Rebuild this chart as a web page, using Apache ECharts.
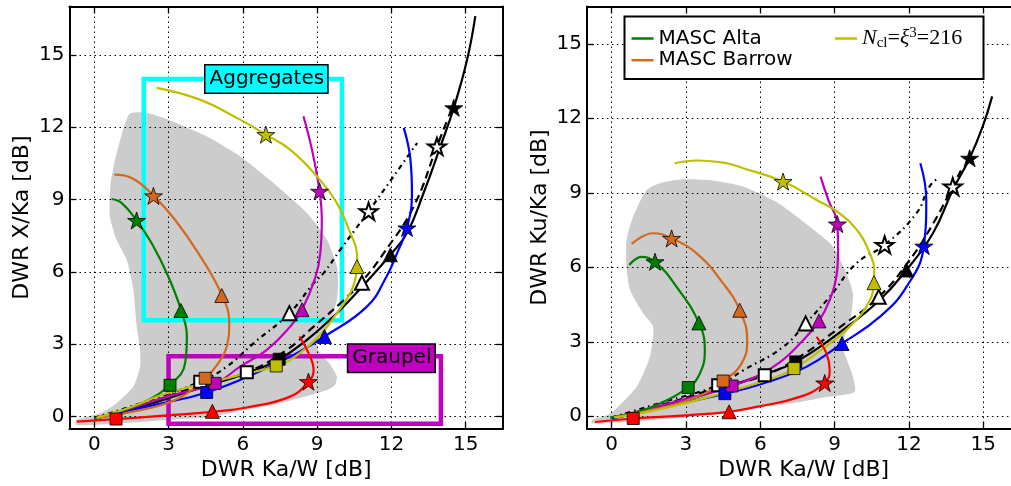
<!DOCTYPE html>
<html><head><meta charset="utf-8">
<script src="https://cdn.jsdelivr.net/npm/echarts@6/dist/echarts.min.js"></script>
<style>html,body{margin:0;padding:0;background:#fff}#c{width:1011px;height:486px}</style>
</head><body><div id="c"></div>
<script>
// ---------- tick values ----------
const xTicks = [0, 3, 6, 9, 12, 15];
const yTicks = [0, 3, 6, 9, 12, 15];

// ---------- LEFT panel: DWR X/Ka vs DWR Ka/W ----------
const leftGray = [[0.63,8.3],[0.66,9.68],[0.84,10.65],[1.17,11.9],[1.44,12.56],[2.1,12.6],[2.99,12.31],[4.54,11.62],[5.89,10.79],[7.24,9.68],[8.59,8.44],[9.4,7.33],[9.8,6.22],[9.85,5.5],[9.8,4.84],[9.6,4.15],[9.4,3.7],[9.06,3.18],[8.99,2.9],[9.13,2.63],[9.5,2.2],[9.8,1.66],[9.73,1.32],[9.4,1.1],[7.5,0.55],[6.0,0.25],[4.8,0.0],[2.93,-0.14],[1.0,-0.28],[-0.75,-0.35],[-0.7,-0.12],[0.23,0.14],[0.9,0.56],[1.58,1.25],[1.85,2.07],[1.85,2.77],[1.7,3.87],[1.58,5.26],[1.31,6.5],[0.9,7.33]];
const leftGreen = [[0.0,-0.08],[0.57,0.07],[1.92,0.56],[3.06,1.32],[3.67,2.22],[3.74,3.32],[3.5,4.43],[2.99,5.81],[2.32,7.19],[1.71,8.13],[1.11,8.85],[0.7,9.02]];
const leftOrange = [[0.1,-0.05],[1.24,0.14],[3.26,0.69],[4.48,1.59],[5.0,2.2],[5.35,2.9],[5.45,3.87],[5.15,5.05],[4.2,6.78],[3.26,8.16],[2.39,9.16],[1.51,9.89],[0.81,10.03]];
const leftYellow = [[0.1,-0.05],[1.5,0.4],[2.93,0.97],[5.62,1.66],[7.35,2.1],[8.05,2.45],[9.13,3.4],[9.8,4.29],[10.34,5.12],[10.55,5.74],[10.62,6.4],[10.61,6.78],[10.34,7.61],[9.8,8.85],[8.99,9.96],[7.91,11.07],[6.93,11.69],[5.89,12.31],[4.27,13.14],[2.52,13.63]];
const leftMagenta = [[0.1,-0.05],[1.5,0.35],[3.0,0.85],[4.88,1.38],[5.89,2.07],[6.97,2.77],[7.91,3.73],[8.39,4.43],[8.92,5.74],[9.13,6.78],[9.19,8.16],[9.1,9.34],[8.79,11.07],[8.45,12.45]];
const leftBlue = [[0.0,-0.08],[1.0,0.15],[2.5,0.5],[4.54,1.0],[6.83,1.94],[8.18,2.63],[9.3,3.32],[11.01,4.56],[11.8,5.8],[12.23,6.78],[12.63,7.82],[12.83,9.27],[12.77,10.65],[12.5,11.97]];
const leftRed = [[-0.71,-0.21],[0.88,-0.1],[2.93,0.05],[4.77,0.2],[6.16,0.38],[7.91,0.83],[8.65,1.45],[8.86,1.94],[8.72,2.49],[8.29,3.32]];
const leftBlack = [[0.0,-0.08],[1.0,0.15],[2.5,0.6],[4.3,1.2],[6.16,1.8],[7.47,2.38],[8.59,3.18],[9.8,4.29],[11.01,5.6],[11.96,6.71],[12.63,7.61],[13.3,9.27],[13.98,11.2],[14.52,12.8],[15.06,14.8],[15.39,16.6]];
const leftDashed = [[0.0,-0.08],[2.0,0.5],[4.28,1.3],[6.16,1.84],[7.78,2.77],[8.86,3.73],[9.94,4.7],[10.81,5.6],[11.69,6.78],[12.9,8.71],[13.84,11.2],[14.3,12.4]];
const leftDashDot = [[0.0,-0.05],[2.0,0.6],[4.28,1.45],[5.35,2.07],[6.43,3.04],[7.88,4.29],[8.86,5.53],[9.26,5.95],[9.94,6.92],[10.5,7.7],[11.08,8.51],[12.09,9.96],[13.04,11.34]];
// markers: [square, triangle, star]
const leftGreenMarks = [[3.06,1.3],[3.5,4.4],[1.71,8.13]];
const leftOrangeMarks = [[4.48,1.59],[5.15,5.02],[2.39,9.15]];
const leftYellowMarks = [[7.35,2.1],[10.61,6.22],[6.93,11.69]];
const leftMagentaMarks = [[4.88,1.38],[8.39,4.43],[9.1,9.34]];
const leftBlueMarks = [[4.54,1.0],[9.3,3.32],[12.63,7.82]];
const leftRedMarks = [[0.88,-0.1],[4.77,0.22],[8.65,1.45]];
const leftBlackMarks = [[7.47,2.38],[11.96,6.71],[14.52,12.8]];
const leftDashedMarks = [[6.16,1.84],[10.81,5.55],[13.84,11.2]];
const leftDashDotMarks = [[4.28,1.45],[7.88,4.29],[11.08,8.51]];
// boxes
const aggregatesBox = [[2,4],[2,14],[10,14],[10,4],[2,4]];
const graupelBox = [[3,-0.3],[3,2.5],[14,2.5],[14,-0.3],[3,-0.3]];
const aggregatesLabelPos = [[6.95,14]];
const graupelLabelPos = [[12,2.42]];

// ---------- RIGHT panel: DWR Ku/Ka vs DWR Ka/W ----------
const rightGray = [[0.6,7.1],[0.87,8.04],[1.41,9.11],[2.0,9.4],[2.89,9.54],[4.0,9.5],[5.3,9.25],[6.7,8.6],[8.0,7.63],[8.94,6.83],[9.48,5.75],[9.74,4.95],[9.7,4.3],[9.6,3.74],[9.3,2.85],[9.45,2.4],[9.74,1.6],[9.81,0.98],[8.5,0.75],[7.19,0.51],[5.0,0.2],[3.16,-0.03],[1.0,-0.2],[-0.8,-0.29],[-0.8,-0.15],[-0.07,0.1],[1.0,1.18],[1.54,2.39],[1.68,3.6],[1.27,4.14],[0.74,5.08],[0.6,6.0]];
const rightGreen = [[-0.07,-0.05],[1.01,0.17],[1.95,0.51],[3.09,1.16],[3.56,1.72],[3.76,2.66],[3.52,3.76],[2.62,5.21],[1.75,6.22],[1.21,6.42],[0.71,6.09]];
const rightOrange = [[0.1,-0.03],[1.28,0.17],[3.43,0.78],[4.5,1.42],[5.24,2.12],[5.47,3.06],[5.17,4.27],[4.5,5.35],[3.43,6.56],[2.42,7.16],[1.68,7.37],[0.81,6.94]];
const rightYellow = [[0.1,-0.05],[2.0,0.3],[4.0,0.8],[6.25,1.45],[7.36,1.92],[8.8,2.93],[9.6,3.6],[10.28,4.41],[10.59,5.38],[10.6,5.9],[10.42,6.56],[10.0,7.37],[9.2,8.17],[8.27,8.71],[6.92,9.45],[5.31,9.99],[4.64,10.19],[3.43,10.3],[2.55,10.19]];
const rightMagenta = [[0.1,-0.05],[1.5,0.3],[3.0,0.7],[4.86,1.22],[6.52,1.99],[7.73,3.06],[8.37,3.84],[8.8,4.68],[9.07,5.62],[9.14,6.69],[9.11,7.74],[8.75,8.7],[8.43,9.65]];
const rightBlue = [[0.0,-0.08],[1.0,0.12],[2.5,0.45],[4.57,0.91],[6.11,1.32],[7.86,1.99],[9.3,2.93],[10.82,4.0],[11.9,5.21],[12.6,6.85],[12.7,8.71],[12.46,10.19]];
const rightRed = [[-0.67,-0.23],[0.87,-0.09],[3.0,0.04],[4.74,0.18],[5.85,0.38],[7.59,0.78],[8.6,1.34],[8.8,1.85],[8.67,2.53],[8.27,3.2]];
const rightBlack = [[0.0,-0.08],[1.0,0.12],[2.5,0.5],[4.3,1.05],[5.85,1.59],[7.43,2.19],[9.33,3.47],[10.82,4.68],[11.9,5.89],[12.97,7.37],[13.77,9.11],[14.45,10.39],[14.98,11.67],[15.36,12.88]];
const rightDashed = [[0.0,-0.08],[2.0,0.45],[4.3,1.15],[6.18,1.65],[7.6,2.4],[9.1,3.5],[10.78,4.81],[12.03,6.29],[13.0,7.8],[13.77,9.25],[14.1,9.9]];
const rightDashDot = [[0.0,-0.05],[2.0,0.55],[4.3,1.25],[5.31,1.85],[6.92,2.79],[7.83,3.74],[8.8,4.81],[9.88,6.16],[11.02,6.9],[12.3,8.17],[12.83,9.25],[13.2,9.6]];
const rightGreenMarks = [[3.09,1.16],[3.52,3.76],[1.75,6.22]];
const rightOrangeMarks = [[4.5,1.42],[5.17,4.27],[2.42,7.16]];
const rightYellowMarks = [[7.36,1.92],[10.59,5.38],[6.92,9.45]];
const rightMagentaMarks = [[4.86,1.22],[8.37,3.84],[9.11,7.74]];
const rightBlueMarks = [[4.57,0.91],[9.3,2.93],[12.6,6.85]];
const rightRedMarks = [[0.87,-0.09],[4.74,0.18],[8.6,1.34]];
const rightBlackMarks = [[7.43,2.19],[11.9,5.89],[14.45,10.39]];
const rightDashedMarks = [[6.18,1.65],[10.78,4.81],[13.77,9.25]];
const rightDashDotMarks = [[4.3,1.25],[7.83,3.74],[11.02,6.9]];

// ---------- styling ----------
const FONT = 'DejaVu Sans';
const STAR = 'path://M0,-10 L2.245,-3.09 L9.511,-3.09 L3.633,1.18 L5.878,8.09 L0,3.82 L-5.878,8.09 L-3.633,1.18 L-9.511,-3.09 L-2.245,-3.09 Z';
const C = {green:'#008000', orange:'#d2691e', yellow:'#bfbf00', magenta:'#bf00bf', blue:'#0000ff', red:'#ff0000', black:'#000000', cyan:'#00ffff', gray:'#cccccc'};

const panels = [
  {gray:leftGray, lines:[
    {name:'L dashdot', d:leftDashDot, m:leftDashDotMarks, c:C.black, t:[5,4,1.5,4], hollow:true},
    {name:'L dashed', d:leftDashed, m:leftDashedMarks, c:C.black, t:[8,5], hollow:true},
    {name:'L black', d:leftBlack, m:leftBlackMarks, c:C.black, t:'solid'},
    {name:'L blue', d:leftBlue, m:leftBlueMarks, c:C.blue, t:'solid'},
    {name:'L magenta', d:leftMagenta, m:leftMagentaMarks, c:C.magenta, t:'solid'},
    {name:'MASC Alta', d:leftGreen, m:leftGreenMarks, c:C.green, t:'solid'},
    {name:'MASC Barrow', d:leftOrange, m:leftOrangeMarks, c:C.orange, t:'solid'},
    {name:'Ncl', d:leftYellow, m:leftYellowMarks, c:C.yellow, t:'solid'},
    {name:'L red', d:leftRed, m:leftRedMarks, c:C.red, t:'solid'}
  ]},
  {gray:rightGray, lines:[
    {name:'R dashdot', d:rightDashDot, m:rightDashDotMarks, c:C.black, t:[5,4,1.5,4], hollow:true},
    {name:'R dashed', d:rightDashed, m:rightDashedMarks, c:C.black, t:[8,5], hollow:true},
    {name:'R black', d:rightBlack, m:rightBlackMarks, c:C.black, t:'solid'},
    {name:'R blue', d:rightBlue, m:rightBlueMarks, c:C.blue, t:'solid'},
    {name:'R magenta', d:rightMagenta, m:rightMagentaMarks, c:C.magenta, t:'solid'},
    {name:'MASC Alta', d:rightGreen, m:rightGreenMarks, c:C.green, t:'solid'},
    {name:'MASC Barrow', d:rightOrange, m:rightOrangeMarks, c:C.orange, t:'solid'},
    {name:'Ncl', d:rightYellow, m:rightYellowMarks, c:C.yellow, t:'solid'},
    {name:'R red', d:rightRed, m:rightRedMarks, c:C.red, t:'solid'}
  ]}
];

function xAxis(gi, pos) {
  const main = pos === 'bottom';
  return {
    type:'value', gridIndex:gi, position:pos, min:-1, max:16.5,
    name: main ? 'DWR Ka/W [dB]' : '', nameLocation:'middle', nameGap:31,
    nameTextStyle:{fontFamily:FONT, fontSize:22, color:'#000'},
    axisLine:{show:true, onZero:false, lineStyle:{color:'#000', width:2}},
    axisTick:{show:true, inside:true, length:7, customValues:xTicks, lineStyle:{color:'#000', width:1.3}},
    axisLabel:{show:main, customValues:xTicks, fontFamily:FONT, fontSize:20, color:'#000', margin:6},
    splitLine:{show:main, lineStyle:{color:'#000', width:1, type:[1.5,3.5]}}
  };
}
function yAxis(gi, pos, max, title) {
  const main = pos === 'left';
  return {
    type:'value', gridIndex:gi, position:pos, min:-0.5, max:max,
    name: main ? title : '', nameLocation:'middle', nameGap:36,
    nameTextStyle:{fontFamily:FONT, fontSize:22, color:'#000'},
    axisLine:{show:true, onZero:false, lineStyle:{color:'#000', width:2}},
    axisTick:{show:true, inside:true, length:7, customValues:yTicks, lineStyle:{color:'#000', width:1.3}},
    axisLabel:{show:main, customValues:yTicks, fontFamily:FONT, fontSize:20, color:'#000', margin:5},
    splitLine:{show:main, lineStyle:{color:'#000', width:1, type:[1.5,3.5]}}
  };
}

const series = [];
panels.forEach((p, gi) => {
  const ax = gi * 2;
  series.push({
    type:'custom', name:'gray'+gi, xAxisIndex:ax, yAxisIndex:ax, z:-1, silent:true, clip:true,
    data:p.gray,
    renderItem:(params, api) => {
      if (params.dataIndex !== 0) return null;
      const pts = p.gray.map(v => api.coord(v));
      return {type:'polygon', shape:{points:pts, smooth:0.2}, style:{fill:C.gray, stroke:null}};
    }
  });
  p.lines.forEach(l => {
    series.push({
      type:'line', name:l.name, xAxisIndex:ax, yAxisIndex:ax, data:l.d, smooth:0.45,
      symbol:'none', showSymbol:false, silent:true, z:2,
      lineStyle:{color:l.c, width:2.2, type:l.t}, itemStyle:{color:l.c}
    });
  });
  p.lines.forEach(l => {
    const shapes = [['rect',12],['triangle',14],[STAR,18]];
    series.push({
      type:'scatter', name:l.name + ' marks', xAxisIndex:ax, yAxisIndex:ax, z:3, silent:true,
      symbolKeepAspect:true,
      data:l.m.map((v,i) => ({value:v, symbol:shapes[i][0], symbolSize:shapes[i][1]})),
      itemStyle:{color: l.hollow ? '#ffffff' : l.c, borderColor:'#000', borderWidth: l.hollow ? 2 : 0.8, opacity:1}
    });
  });
});
// boxes on left panel
series.push({type:'line', name:'aggBox', xAxisIndex:0, yAxisIndex:0, data:aggregatesBox, symbol:'none', z:1, silent:true,
  lineStyle:{color:C.cyan, width:4.5, join:'miter', cap:'square'}});
series.push({type:'line', name:'grpBox', xAxisIndex:0, yAxisIndex:0, data:graupelBox, symbol:'none', z:1, silent:true,
  lineStyle:{color:C.magenta, width:4.5, join:'miter', cap:'square'}});
const lbl = (bg, text) => ({show:true, position:'inside', formatter:text, color:'#000', fontFamily:FONT, fontSize:20,
  backgroundColor:bg, borderColor:'#000', borderWidth:1.5, padding:[3,3,1,4], lineHeight:23, opacity:1});
series.push({type:'scatter', name:'aggLabel', xAxisIndex:0, yAxisIndex:0, data:aggregatesLabelPos, symbol:'circle', symbolSize:2, z:6, silent:true,
  itemStyle:{color:'rgba(0,0,0,0)'}, label:lbl(C.cyan, 'Aggregates')});
series.push({type:'scatter', name:'grpLabel', xAxisIndex:0, yAxisIndex:0, data:graupelLabelPos, symbol:'circle', symbolSize:2, z:6, silent:true,
  itemStyle:{color:'rgba(0,0,0,0)'}, label:lbl(C.magenta, 'Graupel')});

const option = {
  animation:false,
  backgroundColor:'#ffffff',
  grid:[
    {left:69.5, right:508.2, top:6.5, bottom:57.3, outerBoundsMode:'none', containLabel:false},
    {left:586.9, right:-9.4, top:6.5, bottom:57.3, outerBoundsMode:'none', containLabel:false}
  ],
  xAxis:[xAxis(0,'bottom'), xAxis(0,'top'), xAxis(1,'bottom'), xAxis(1,'top')],
  yAxis:[yAxis(0,'left',17,'DWR X/Ka [dB]'), yAxis(0,'right',17,''), yAxis(1,'left',16.5,'DWR Ku/Ka [dB]'), yAxis(1,'right',16.5,'')],
  legend:[
    {data:['MASC Alta','MASC Barrow'], orient:'vertical', left:631.5, top:28, padding:0, itemGap:0.7,
     icon:'rect', itemWidth:22, itemHeight:2.5, selectedMode:false,
     textStyle:{fontFamily:FONT, fontSize:20, color:'#000', lineHeight:21}},
    {data:['Ncl'], orient:'vertical', left:835, top:26, padding:0, icon:'rect', itemWidth:22, itemHeight:2.5, selectedMode:false,
     formatter:() => '{i|N}{s|cl}{r|=}{i|ξ}{p|3}{r|=216}',
     textStyle:{color:'#000', lineHeight:25, rich:{
       i:{fontFamily:'Liberation Serif', fontStyle:'italic', fontSize:22, lineHeight:25, color:'#000'},
       r:{fontFamily:'Liberation Serif', fontSize:22, lineHeight:25, color:'#000'},
       s:{fontFamily:'Liberation Serif', fontSize:15, lineHeight:15, verticalAlign:'bottom', color:'#000'},
       p:{fontFamily:'Liberation Serif', fontSize:15, lineHeight:15, verticalAlign:'top', color:'#000'}
     }}}
  ],
  graphic:[{type:'rect', z:3, silent:true, shape:{x:624.5, y:16.5, width:359, height:62.5},
    style:{fill:'#ffffff', stroke:'#000', lineWidth:2}}],
  series:series
};
const chart = echarts.init(document.getElementById('c'), null, {renderer:'canvas', width:1011, height:486});
chart.setOption(option);
</script>
</body></html>
